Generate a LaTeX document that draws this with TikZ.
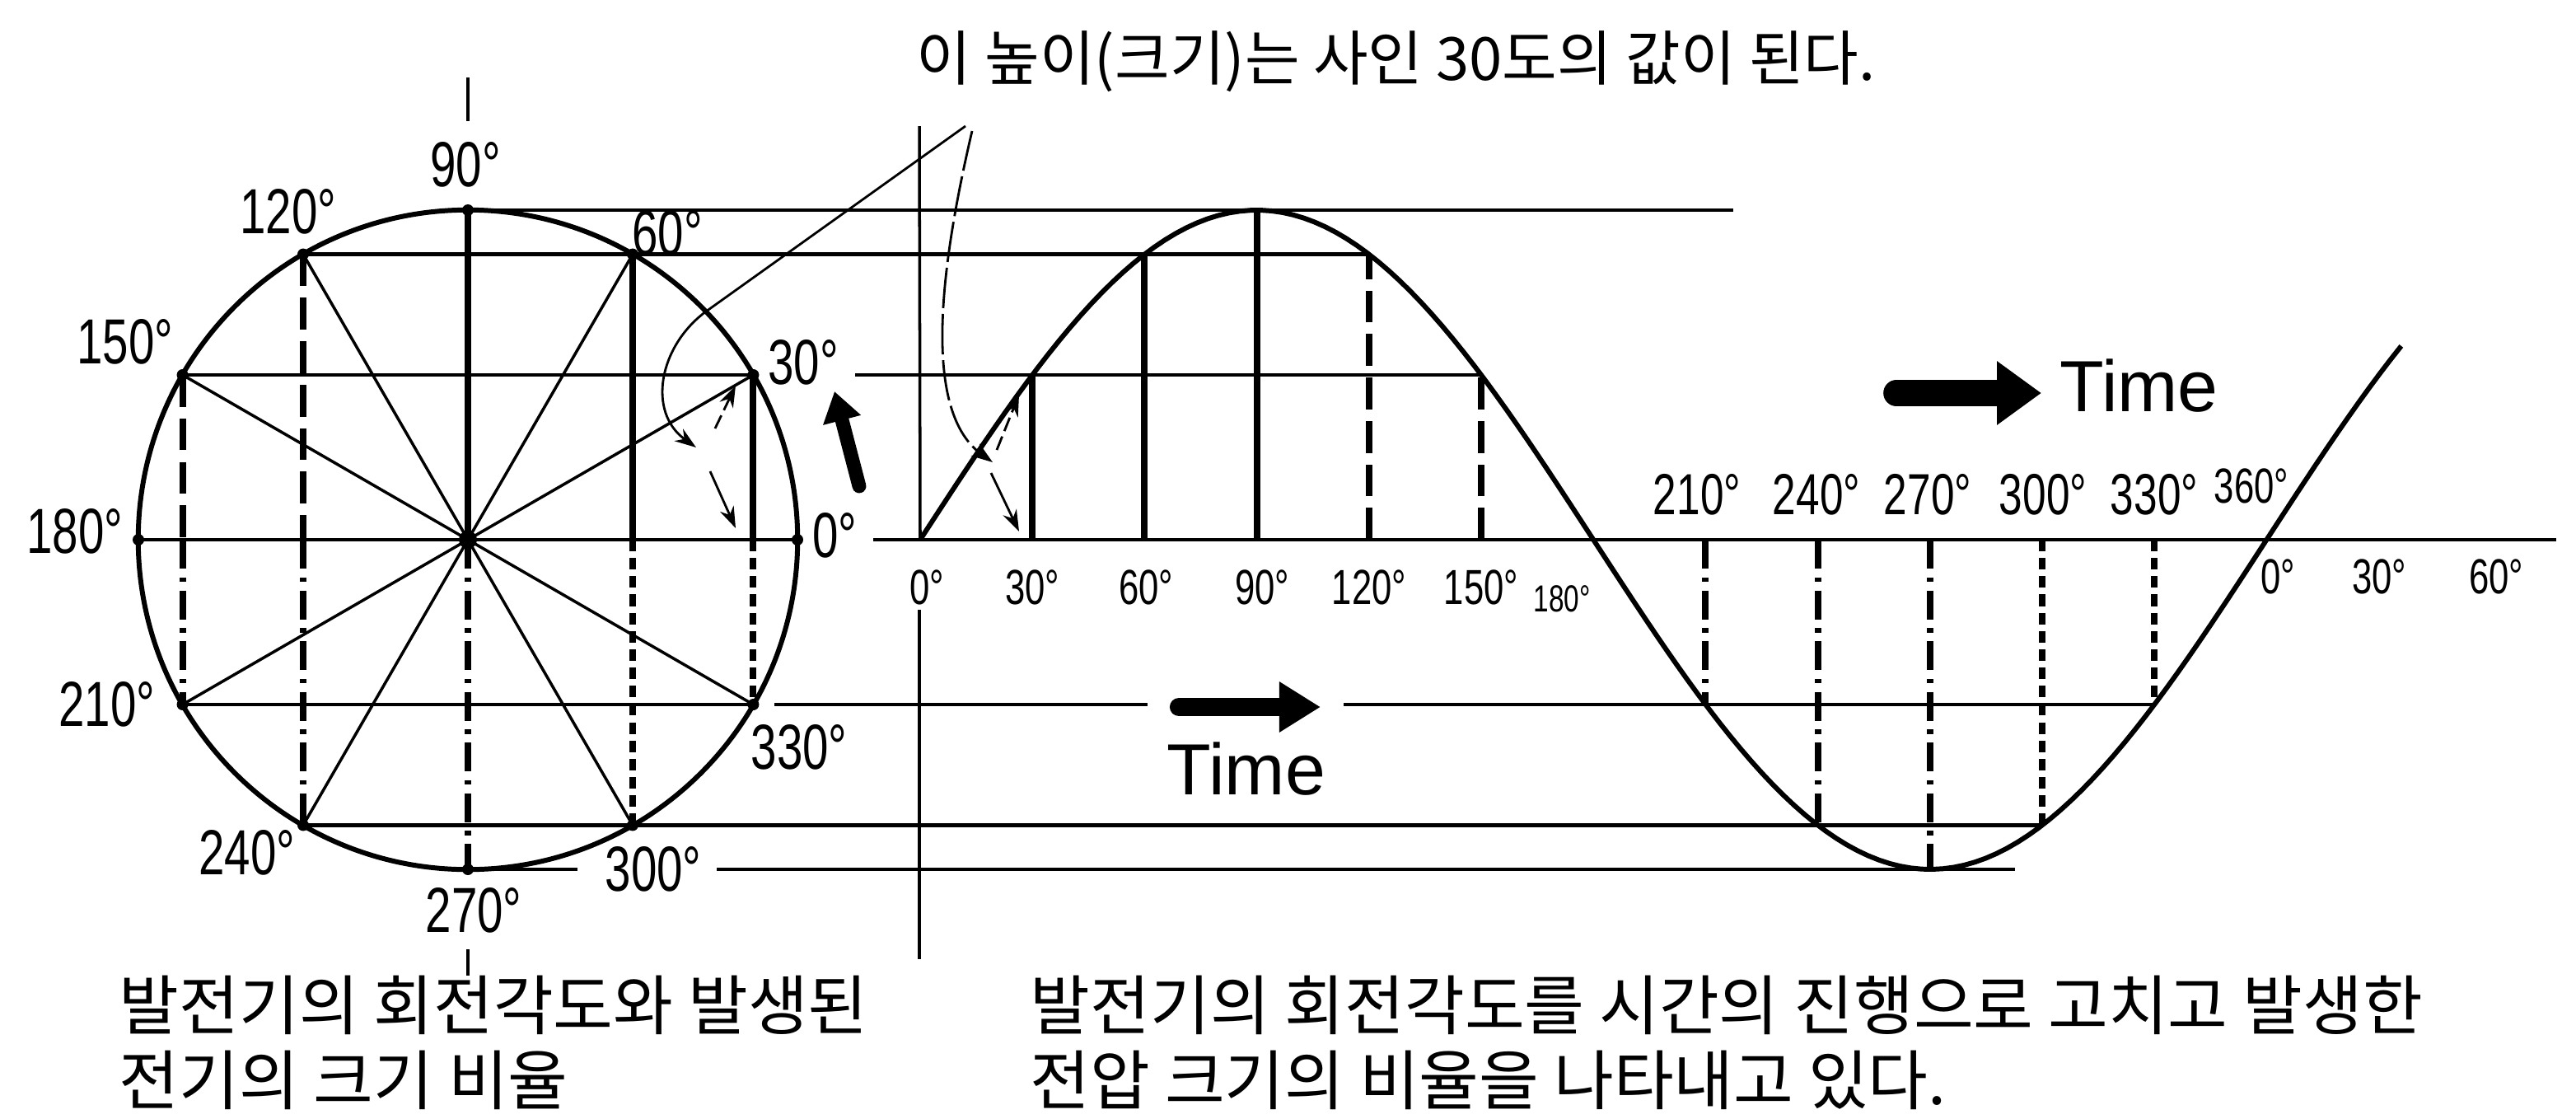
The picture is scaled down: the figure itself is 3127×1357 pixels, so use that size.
\documentclass[tikz,border=0pt]{standalone}
\usepackage{fontspec}
\setmainfont{Liberation Sans}
\newfontfamily\kofont{Noto Sans CJK KR}
\newfontfamily\degfont[FakeStretch=0.73]{Liberation Sans}
\usetikzlibrary{arrows.meta}

\begin{document}
\begin{tikzpicture}[
        x=0.01cm, y=-0.01cm,
        guide/.style={line width=1.3pt},
        solidproj/.style={line width=2.3pt},
        dashproj/.style={line width=2.3pt, dash pattern=on 11pt off 4pt},
        dotdashproj/.style={line width=2.3pt, dash pattern=on 10pt off 3pt on 1.5pt off 3pt},
        dotproj/.style={line width=2.3pt, dash pattern=on 4pt off 2.3pt},
        radial/.style={line width=1pt},
        note/.style={line width=0.8pt, -{Stealth[length=0.26cm, width=0.18cm]}},
        blockarrow/.style={line cap=round, -{Triangle[length=#1]}},
        ptdot/.style={circle, fill, inner sep=0pt, minimum size=0.14cm},
        deglab/.style={font=\degfont\fontsize{22}{22}\selectfont, inner sep=0pt},
        uplab/.style={font=\degfont\fontsize{20}{20}\selectfont, inner sep=0pt},
        axlab/.style={font=\degfont\fontsize{17}{17}\selectfont, inner sep=0pt},
        smalllab/.style={font=\degfont\fontsize{13}{13}\selectfont, inner sep=0pt},
        timelab/.style={font=\fontsize{25}{25}\selectfont, inner sep=0pt},
        notetext/.style={font=\kofont\fontsize{22.5}{25.6}\selectfont, inner sep=0pt, align=left},
        headtext/.style={font=\kofont\fontsize{20.6}{25}\selectfont, inner sep=0pt}
    ]

    \useasboundingbox (0,0) rectangle (3127,1357);
    \fill[white] (0,0) rectangle (3127,1357);

    % points on the circle and on the wave
    \coordinate (O) at (568,655);
    \foreach \a in {0,30,...,330} {
        \coordinate (P\a) at ({568+400*cos(\a)}, {655-400*sin(\a)});
    }
    \foreach \a in {0,30,...,360} {
        \coordinate (S\a) at ({1117+4.54*\a}, {655-400*sin(\a)});
        \coordinate (B\a) at ({1117+4.54*\a}, 655);
    }

    % circle
    \draw[line width=1.7pt] (O) circle[radius=4cm];
    \foreach \a in {30,60,120,150,210,240,300,330}
        \draw[radial] (O) -- (P\a);
    \draw[solidproj] (P90) -- (O);
    \draw[dotdashproj] (O) -- (P270);
    \foreach \a in {30,60}
        \draw[solidproj] (P\a) -- (P\a |- O);
    \foreach \a in {120,150}
        \draw[dashproj] (P\a) -- (P\a |- O);
    \foreach \a in {210,240}
        \draw[dotdashproj] (P\a |- O) -- (P\a);
    \foreach \a in {300,330}
        \draw[dotproj] (P\a |- O) -- (P\a);
    \foreach \a in {0,30,...,330}
        \node[ptdot] (d\a) at (P\a) {};
    \node[ptdot, minimum size=0.22cm] (dO) at (O) {};

    % horizontal guide lines
    \coordinate (E90) at (2104,255);
    \coordinate (G30) at (1038,455);
    \coordinate (A0) at (1060,655);
    \coordinate (A1) at (3103,655);
    \coordinate (G330a) at (940,855);
    \coordinate (G330b) at (1393,855);
    \coordinate (G330c) at (1631,855);
    \coordinate (G270a) at (701,1055);
    \coordinate (G270b) at (870,1055);
    \coordinate (G270c) at (2446,1055);
    \draw[guide] (P90) -- (E90);
    \draw[guide] (P120) -- (S120);
    \draw[guide] (P150) -- (P30);
    \draw[guide] (G30) -- (S150);
    \draw[guide] (P180) -- (P0);
    \draw[guide] (A0) -- (A1);
    \draw[guide] (P210) -- (P330);
    \draw[guide] (G330a) -- (G330b);
    \draw[guide] (G330c) -- (S330);
    \draw[guide] (P240) -- (S300);
    \draw[guide] (P270) -- (G270a);
    \draw[guide] (G270b) -- (G270c);

    % vertical axis and ticks
    \coordinate (Y0) at (1116,153);
    \coordinate (Y1) at (1116,740);
    \coordinate (Y2) at (1116,1164);
    \coordinate (T0) at (568,94);
    \coordinate (T1) at (568,147);
    \coordinate (T2) at (568,1152);
    \coordinate (T3) at (568,1184);
    \draw[line width=1pt] (Y0) -- (B0);
    \draw[line width=1pt] (Y1) -- (Y2);
    \draw[line width=0.9pt] (T0) -- (T1);
    \draw[line width=0.9pt] (T2) -- (T3);

    % wave
    \draw[line width=1.7pt] plot[domain=0:396, samples=140] ({1117+4.54*\x}, {655-400*sin(\x)});
    \foreach \a in {30,60,90}
        \draw[solidproj] (B\a) -- (S\a);
    \foreach \a in {120,150}
        \draw[dashproj] (B\a) -- (S\a);
    \foreach \a in {210,240,270}
        \draw[dotdashproj] (B\a) -- (S\a);
    \foreach \a in {300,330}
        \draw[dotproj] (B\a) -- (S\a);

    % angle labels
    \foreach \n/\x/\y in {90/565/200, 120/350/257, 60/810/283, 150/152/415,
                          30/975/440, 180/91/645, 0/1013/650, 210/130/855,
                          330/970/907, 240/300/1035, 300/793/1055, 270/575/1105}
        \node[deglab] (c\n) at (\x,\y) {\n°};
    \foreach \n/\x in {0/1125, 30/1253, 60/1391, 90/1532, 120/1662, 150/1798}
        \node[axlab] (s\n) at (\x,713) {\n°};
    \node[smalllab] (s180) at (1896,727) {180°};
    \foreach \n/\x in {210/2060, 240/2205, 270/2340, 300/2480, 330/2615}
        \node[uplab] (s\n) at (\x,600) {\n°};
    \node[axlab] (s360) at (2733,590) {360°};
    \foreach \n/\x in {0/2765, 30/2888, 60/3030}
        \node[axlab] (r\n) at (\x,700) {\n°};

    % time arrows
    \coordinate (ta1) at (2302,477);
    \coordinate (ta2) at (2478,477);
    \coordinate (tb1) at (1431,858);
    \coordinate (tb2) at (1603,858);
    \coordinate (tc1) at (1043,590);
    \coordinate (tc2) at (1013,475);
    \draw[blockarrow={0.54cm, width=0.74cm}, line width=9pt] (ta1) -- (ta2);
    \draw[blockarrow={0.5cm, width=0.58cm}, line width=6.3pt] (tb1) -- (tb2);
    \draw[blockarrow={0.36cm, width=0.45cm}, line width=4.8pt] (tc1) -- (tc2);
    \node[timelab, anchor=west] (time1) at (2500,468) {Time};
    \node[timelab] (time2) at (1513,933) {Time};

    % pointers from the note
    \coordinate (na1) at (1172,153);
    \coordinate (na2) at (857,378);
    \coordinate (na3) at (845,543);
    \coordinate (nb1) at (1180,159);
    \coordinate (nb2) at (1205,561);
    \draw[note] (na1) -- (na2) .. controls (800,420) and (785,500) .. (na3);
    \draw[note, dash pattern=on 14pt off 2pt] (nb1) .. controls (1140,330) and (1120,500) .. (nb2);
    \coordinate (h1) at (862,572);
    \coordinate (h2) at (893,641);
    \coordinate (h3) at (868,520);
    \coordinate (h4) at (893,468);
    \coordinate (h5) at (1203,574);
    \coordinate (h6) at (1237,645);
    \coordinate (h7) at (1210,546);
    \coordinate (h8) at (1237,479);
    \draw[note] (h1) -- (h2);
    \draw[note, dash pattern=on 5pt off 2pt] (h3) -- (h4);
    \draw[note] (h5) -- (h6);
    \draw[note, dash pattern=on 5pt off 2pt] (h7) -- (h8);

    % texts
    \node[headtext, anchor=base west] (toptext) at (1112,97) {이 높이(크기)는 사인 30도의 값이 된다.};
    \node[notetext, anchor=base west] (lefttext) at (144,1340) {발전기의 회전각도와 발생된\\전기의 크기 비율};
    \node[notetext, anchor=base west] (righttext) at (1250,1340) {발전기의 회전각도를 시간의 진행으로 고치고 발생한\\전압 크기의 비율을 나타내고 있다.};

\end{tikzpicture}
\end{document}
